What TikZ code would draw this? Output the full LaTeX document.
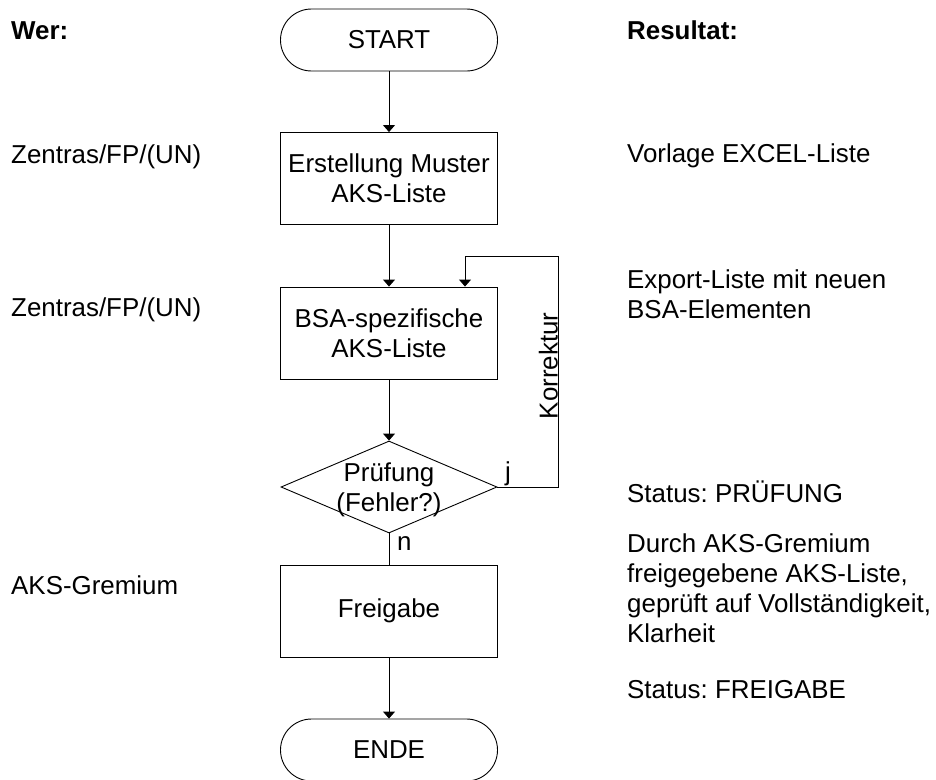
\documentclass[tikz,border=0pt]{standalone}
\usepackage{fontspec}
\setmainfont{Liberation Sans}
\usetikzlibrary{shapes.geometric,arrows.meta}
\frenchspacing
\begin{document}
\begin{tikzpicture}[x=1pt,y=-1pt,
  every node/.style={font=\fontsize{25.9}{30}\selectfont, inner sep=0pt},
  flow/.style={draw=black, line width=0.9pt},
  term/.style={flow, rectangle, rounded corners=31pt, minimum width=217pt, minimum height=62pt},
  proc/.style={flow, rectangle, minimum width=217pt, minimum height=92pt, align=center},
  decide/.style={flow, diamond, minimum width=216pt, minimum height=92pt},
  side/.style={anchor=base west},
  conn/.style={line width=0.9pt},
  arr/.style={conn, -{Triangle[width=12pt,length=7pt]}}
]
\useasboundingbox (0,0) rectangle (936,779);

% flow chart
\node[term] (start) at (389,40) {START};
\node[proc] (b1) at (389,178.5) {Erstellung Muster\\AKS-Liste};
\node[proc] (b2) at (389,333) {BSA-spezifische\\AKS-Liste};
\node[decide] (pr) at (389,487) {};
\node[align=center] (prt) at ([yshift=-3pt]pr.center) {Prüfung\\(Fehler?)};
\node[proc] (fg) at (389,611) {Freigabe};
\node[term] (ende) at (389,750) {ENDE};

\draw[arr] (start) -- (b1);
\draw[arr] (b1) -- (b2);
\draw[arr] (b2) -- (pr);
\draw[conn] (pr) -- (fg);
\draw[arr] (fg) -- (ende);

% correction loop
\coordinate (kr) at (558,256);
\draw[arr] (pr.east) -| (kr) -| ([xshift=76pt]b2.north);
\node[anchor=base west] (lj) at (505,480) {j};
\node[anchor=base west] (ln) at (397,550) {n};
\node[rotate=90, anchor=base] (kor) at (557.5,366) {Korrektur};

% who
\node[side] (wer) at (11,39) {\bfseries Wer:};
\node[side] (z1) at (11,163) {Zentras/FP/(UN)};
\node[side] (z2) at (11,316) {Zentras/FP/(UN)};
\node[side] (ag) at (11,594) {AKS-Gremium};

% results
\node[side] (res) at (627,39) {\bfseries Resultat:};
\node[side] (r1) at (627,162) {Vorlage EXCEL-Liste};
\node[side] (r2a) at (627,288) {Export-Liste mit neuen};
\node[side] (r2b) at (627,318) {BSA-Elementen};
\node[side] (r3) at (627,502) {Status: PRÜFUNG};
\node[side] (r4a) at (627,552) {Durch AKS-Gremium};
\node[side] (r4b) at (627,582) {freigegebene AKS-Liste,};
\node[side] (r4c) at (627,612) {geprüft auf Vollständigkeit,};
\node[side] (r4d) at (627,642) {Klarheit};
\node[side] (r5) at (627,698) {Status: FREIGABE};
\end{tikzpicture}
\end{document}
